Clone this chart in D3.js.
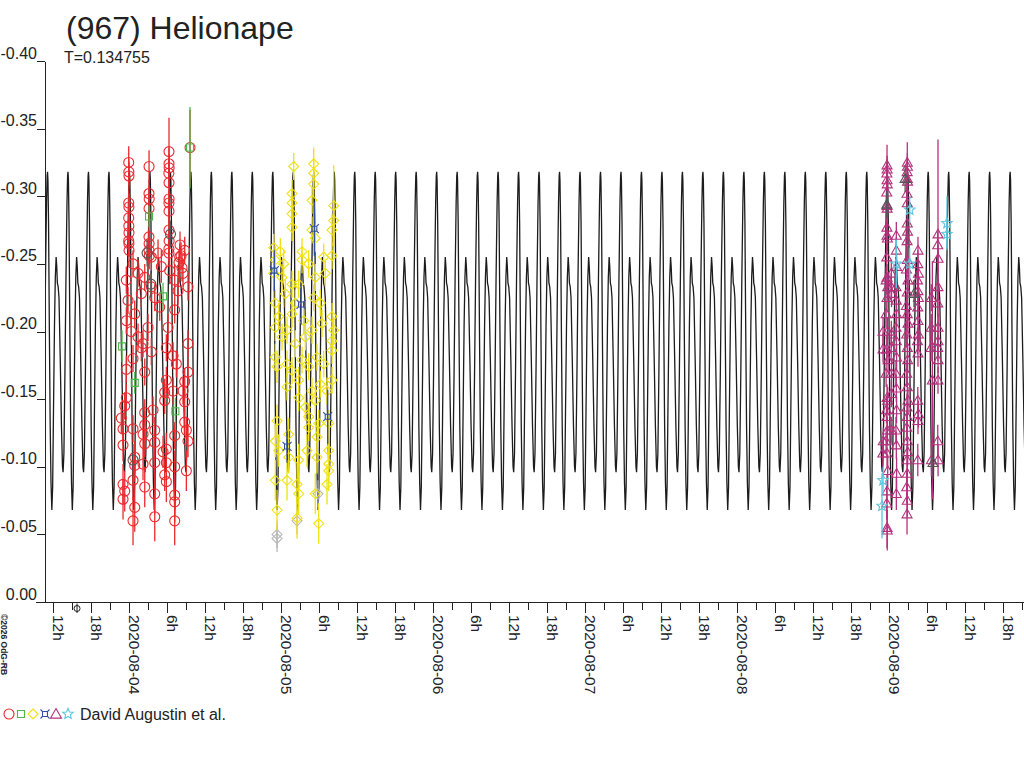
<!DOCTYPE html>
<html>
<head>
<meta charset="utf-8">
<script src="https://cdn.jsdelivr.net/npm/d3@7"></script>
<style>
  body { margin: 0; background: #fff; }
  svg { display: block; font-family: "Liberation Sans", Arial, sans-serif; }
</style>
</head>
<body>
<svg id="chart" width="1024" height="768"></svg>
<script>
// (967) Helionape - lightcurve, David Augustin et al.

// Model curve
const periodDays = 0.134755;
const maxHour = 42.16;       // one primary maximum, hours after 2020-08-04 00:00 UT
const epochHour = -8.16;     // phase marker under the time axis

// one period of the model, phase -> magnitude
const modelPhase = [0.00, 0.02, 0.05, 0.09, 0.13, 0.17, 0.21, 0.25, 0.29, 0.34, 0.38, 0.42, 0.45, 0.48, 0.52, 0.56, 0.62, 0.68, 0.73, 0.76, 0.80, 0.85, 0.90, 0.95, 0.98];
const modelMag = [-0.318, -0.312, -0.280, -0.200, -0.130, -0.088, -0.068, -0.085, -0.140, -0.205, -0.240, -0.255, -0.248, -0.236, -0.233, -0.225, -0.180, -0.130, -0.100, -0.096, -0.110, -0.170, -0.240, -0.295, -0.315];

// Observations: [hours after 2020-08-04 00:00 UT, magnitude, error]
const redData = [
  [0.00,-0.325,0.012],[0.02,-0.318,0.010],[0.04,-0.315,0.010],[0.00,-0.295,0.010],[0.03,-0.292,0.010],[0.00,-0.284,0.010],
  [0.02,-0.278,0.010],[0.04,-0.273,0.010],[0.00,-0.267,0.010],[0.03,-0.265,0.010],[0.05,-0.260,0.012],
  [3.21,-0.322,0.012],[3.20,-0.302,0.010],[3.23,-0.298,0.010],[3.21,-0.291,0.010],[3.20,-0.270,0.010],[3.22,-0.265,0.010],
  [3.21,-0.260,0.010],[3.24,-0.256,0.010],
  [6.36,-0.333,0.025],[6.36,-0.324,0.012],[6.38,-0.321,0.010],[6.34,-0.317,0.010],[6.36,-0.310,0.010],[6.37,-0.298,0.010],
  [6.35,-0.295,0.010],[6.36,-0.289,0.010],[6.36,-0.275,0.010],[6.38,-0.267,0.010],[6.35,-0.261,0.010],[6.36,-0.258,0.010],
  [8.10,-0.264,0.010],[8.26,-0.256,0.010],[7.94,-0.251,0.010],[8.42,-0.247,0.010],[9.68,-0.336,0.028],
  [0.68,-0.250,0.010],[1.47,-0.243,0.010],[-0.38,-0.238,0.010],[2.53,-0.240,0.010],[3.57,-0.255,0.010],[4.63,-0.258,0.010],
  [5.15,-0.248,0.012],[3.57,-0.233,0.010],[1.99,-0.228,0.010],[-0.11,-0.223,0.010],[0.95,-0.213,0.010],[-0.38,-0.208,0.010],
  [4.11,-0.225,0.010],[6.47,-0.245,0.010],[7.26,-0.238,0.012],[8.05,-0.255,0.010],[8.84,-0.260,0.010],[8.57,-0.243,0.010],
  [7.78,-0.230,0.010],[9.36,-0.233,0.010],[7.26,-0.216,0.010],[6.21,-0.203,0.010],[3.05,-0.203,0.010],[1.47,-0.196,0.010],
  [4.89,-0.218,0.010],
  [0.41,-0.200,0.010],[2.26,-0.191,0.010],[3.57,-0.185,0.010],[1.99,-0.188,0.010],[0.68,-0.180,0.010],[-0.38,-0.172,0.010],
  [2.53,-0.170,0.010],[5.94,-0.188,0.010],[7.52,-0.176,0.010],[7.00,-0.182,0.010],[9.36,-0.191,0.010],[8.84,-0.163,0.010],
  [9.36,-0.170,0.010],[5.94,-0.164,0.010],[5.68,-0.155,0.010],[7.00,-0.156,0.010],[5.68,-0.149,0.010],[-0.38,-0.151,0.010],
  [-0.63,-0.145,0.010],[2.53,-0.140,0.010],[3.84,-0.142,0.010],[8.84,-0.148,0.010],[8.57,-0.156,0.010],[-1.17,-0.136,0.012],
  [-0.90,-0.128,0.012],[0.68,-0.128,0.010],[2.53,-0.131,0.010],[4.11,-0.127,0.010],[2.26,-0.124,0.010],[4.11,-0.118,0.010],
  [2.53,-0.117,0.010],[-0.90,-0.116,0.012],[5.94,-0.113,0.012],[5.42,-0.111,0.012],[8.84,-0.133,0.010],[9.10,-0.127,0.010],
  [9.36,-0.119,0.012],[7.26,-0.123,0.010],[0.95,-0.107,0.012],[0.95,-0.101,0.012],[4.11,-0.103,0.012],[2.26,-0.102,0.012],
  [5.94,-0.103,0.012],[7.26,-0.100,0.012],[9.10,-0.097,0.015],[5.68,-0.094,0.012],[0.68,-0.090,0.015],[-0.90,-0.087,0.015],
  [-0.63,-0.082,0.015],[2.53,-0.085,0.015],[-0.90,-0.076,0.015],[4.11,-0.080,0.015],[7.26,-0.079,0.015],[7.26,-0.074,0.015],
  [0.95,-0.070,0.018],[4.11,-0.063,0.018],[0.68,-0.060,0.018],[7.26,-0.060,0.018],[5.94,-0.089,0.015]
];
const greenData = [
  [-1.06,-0.189,0.012],[0.95,-0.162,0.008],[3.21,-0.285,0.008],[5.42,-0.226,0.010],[7.37,-0.141,0.010],[9.68,-0.336,0.030]
];
const yellowData = [
  [29.21,-0.324,0.012],[26.05,-0.322,0.010],[29.21,-0.317,0.010],[29.21,-0.309,0.010],[32.37,-0.293,0.030],[32.37,-0.282,0.015],
  [25.79,-0.302,0.010],[25.79,-0.295,0.010],[25.79,-0.287,0.010],[25.79,-0.277,0.010],[28.94,-0.297,0.010],[28.94,-0.275,0.010],
  [29.46,-0.269,0.010],[32.10,-0.275,0.012],[22.90,-0.262,0.010],[23.94,-0.259,0.010],[27.36,-0.259,0.010],[27.36,-0.253,0.010],
  [30.79,-0.255,0.010],[32.10,-0.256,0.010],[23.15,-0.253,0.010],[24.47,-0.250,0.010],[28.42,-0.250,0.010],[22.90,-0.243,0.010],
  [24.21,-0.240,0.010],[25.79,-0.235,0.010],[26.84,-0.235,0.010],[29.46,-0.240,0.010],[31.04,-0.243,0.010],[24.73,-0.228,0.010],
  [26.31,-0.221,0.010],[29.21,-0.225,0.010],[23.15,-0.221,0.010],[30.25,-0.221,0.010],[32.10,-0.211,0.010],[23.69,-0.211,0.010],
  [25.79,-0.213,0.010],[27.63,-0.208,0.010],[28.94,-0.201,0.010],[25.00,-0.201,0.010],[30.52,-0.206,0.010],[32.37,-0.201,0.010],
  [23.15,-0.203,0.010],[24.21,-0.196,0.010],[26.31,-0.191,0.010],[27.89,-0.196,0.010],[32.10,-0.193,0.010],[23.15,-0.181,0.010],
  [25.00,-0.176,0.010],[27.36,-0.179,0.010],[29.73,-0.181,0.010],[32.10,-0.186,0.010],[23.42,-0.174,0.012],[25.79,-0.171,0.010],
  [28.42,-0.174,0.010],[30.79,-0.176,0.010],[26.84,-0.164,0.010],[32.10,-0.164,0.010],[25.00,-0.159,0.010],[28.94,-0.156,0.010],
  [30.25,-0.161,0.010],[26.84,-0.151,0.010],[31.31,-0.156,0.010],[29.46,-0.149,0.010],[27.89,-0.144,0.010],[28.42,-0.137,0.010],
  [28.42,-0.129,0.010],[30.00,-0.132,0.010],[31.58,-0.132,0.010],[23.42,-0.134,0.012],[25.26,-0.124,0.012],[23.15,-0.119,0.012],
  [29.73,-0.122,0.012],[31.58,-0.112,0.012],[23.69,-0.112,0.012],[25.26,-0.107,0.012],[26.84,-0.105,0.012],[28.15,-0.112,0.012],
  [29.73,-0.107,0.012],[23.15,-0.090,0.015],[25.00,-0.090,0.015],[31.58,-0.097,0.015],[26.84,-0.080,0.015],[31.31,-0.087,0.015],
  [23.42,-0.068,0.015],[26.58,-0.062,0.015],[30.00,-0.058,0.015],[31.58,-0.102,0.012],[26.58,-0.087,0.015],[29.46,-0.080,0.015]
];
const blueData = [
  [22.99,-0.245,0.015],[29.31,-0.276,0.020],[27.21,-0.220,0.015],[25.00,-0.115,0.012],[31.42,-0.137,0.020]
];
const magentaData = [
  [119.74,-0.323,0.015],[119.76,-0.320,0.010],[119.72,-0.317,0.010],[119.74,-0.312,0.010],[119.78,-0.309,0.010],[119.70,-0.303,0.010],
  [119.74,-0.293,0.010],[119.76,-0.291,0.010],[119.72,-0.277,0.010],[119.74,-0.271,0.010],[119.80,-0.269,0.010],[119.70,-0.255,0.010],
  [119.74,-0.240,0.010],[119.60,-0.238,0.010],[119.85,-0.233,0.010],[119.74,-0.225,0.010],[119.60,-0.213,0.010],[119.80,-0.200,0.010],
  [119.70,-0.187,0.010],[119.90,-0.179,0.010],[119.60,-0.169,0.010],[119.74,-0.151,0.010],[119.85,-0.149,0.010],[119.65,-0.142,0.010],
  [119.74,-0.137,0.010],[119.80,-0.127,0.010],[119.60,-0.119,0.010],[119.74,-0.110,0.010],[119.85,-0.097,0.012],[119.74,-0.082,0.012],
  [119.70,-0.073,0.012],[119.74,-0.055,0.015],[119.78,-0.053,0.015],
  [122.94,-0.325,0.015],[122.96,-0.322,0.010],[122.92,-0.318,0.010],[122.94,-0.313,0.010],[122.98,-0.311,0.010],[122.90,-0.302,0.010],
  [122.94,-0.295,0.010],[122.94,-0.280,0.010],[122.98,-0.274,0.010],[122.90,-0.267,0.010],[122.94,-0.253,0.010],[122.80,-0.246,0.010],
  [123.05,-0.238,0.010],[122.94,-0.229,0.010],[122.80,-0.219,0.010],[122.94,-0.213,0.010],[123.05,-0.206,0.010],[122.85,-0.198,0.010],
  [122.94,-0.188,0.010],[123.00,-0.179,0.010],[122.85,-0.169,0.010],[122.94,-0.159,0.010],[123.05,-0.149,0.010],[122.90,-0.144,0.010],
  [122.94,-0.137,0.010],[122.85,-0.129,0.010],[122.94,-0.119,0.010],[123.00,-0.111,0.010],[122.90,-0.105,0.012],[122.94,-0.095,0.012],
  [122.85,-0.085,0.012],[122.94,-0.075,0.012],[122.90,-0.065,0.015],
  [121.21,-0.271,0.010],[121.21,-0.260,0.010],[121.25,-0.248,0.010],[121.15,-0.233,0.010],[121.21,-0.223,0.010],[121.25,-0.213,0.010],
  [121.15,-0.203,0.010],[121.21,-0.193,0.010],[121.25,-0.181,0.010],[121.15,-0.169,0.010],[121.21,-0.158,0.010],[121.25,-0.142,0.010],
  [121.15,-0.127,0.010],[121.21,-0.116,0.010],[121.25,-0.095,0.012],[121.21,-0.080,0.012],
  [124.63,-0.260,0.010],[124.60,-0.250,0.010],[124.70,-0.243,0.010],[124.55,-0.238,0.010],[124.63,-0.230,0.010],[124.70,-0.225,0.010],
  [124.60,-0.218,0.010],[124.63,-0.208,0.010],[124.70,-0.198,0.010],[124.55,-0.193,0.010],[124.63,-0.184,0.010],[124.60,-0.149,0.010],
  [124.70,-0.139,0.010],[124.63,-0.134,0.010],[124.60,-0.105,0.012],
  [127.79,-0.272,0.070],[127.75,-0.264,0.010],[127.80,-0.254,0.010],[127.79,-0.233,0.010],[127.75,-0.221,0.010],[127.80,-0.203,0.010],
  [127.79,-0.193,0.010],[127.75,-0.188,0.010],[127.80,-0.179,0.010],[127.79,-0.164,0.010],[127.75,-0.119,0.012],[127.80,-0.105,0.012],
  [126.73,-0.225,0.010],[126.73,-0.203,0.010],[126.70,-0.188,0.010],[126.75,-0.105,0.012],[126.90,-0.164,0.088],
  [120.42,-0.243,0.010],[120.40,-0.233,0.010],[120.45,-0.228,0.010],[120.42,-0.198,0.010],[120.40,-0.188,0.010],[120.45,-0.169,0.010],
  [120.42,-0.154,0.010],[120.40,-0.127,0.010],
  [119.11,-0.200,0.010],[119.11,-0.187,0.010],[119.15,-0.119,0.010],[119.08,-0.110,0.010]
];
const cyanData = [
  [123.32,-0.290,0.010],[129.21,-0.280,0.020],[129.21,-0.272,0.010],[121.21,-0.250,0.018],[123.32,-0.250,0.012],
  [119.11,-0.090,0.010],[118.95,-0.071,0.024]
];
// grey (rejected) points
const greyCircleData = [[0.68,-0.105,0.012],[2.90,-0.258,0.010],[6.60,-0.272,0.010],[3.50,-0.235,0.010]];
const greyDiamondData = [[23.42,-0.050,0.010],[23.42,-0.047,0.010],[26.58,-0.060,0.010],[29.89,-0.080,0.010]];
const greyTriangleData = [[119.70,-0.294,0.010],[124.00,-0.228,0.010],[127.00,-0.103,0.012],[122.60,-0.313,0.010]];

// Axes values
const yTickValues = [-0.40, -0.35, -0.30, -0.25, -0.20, -0.15, -0.10, -0.05, 0.00];
const startHour = -13.22;
const endHour = 141.37;

const title = '(967) Helionape';
const subtitle = 'T=' + periodDays;
const legendText = 'David Augustin et al.';
const copyrightText = '\u00A92026 OdG-RB';

// ---------------------------------------------------------------

const svg = d3.select('#chart');
const base = Date.UTC(2020, 7, 4);
const atHour = h => new Date(base + h * 3600e3);

const x = d3.scaleUtc().domain([atHour(startHour), atHour(endHour)]).range([45, 1024]);
const y = d3.scaleLinear().domain([-0.40, 0]).range([61, 602]);

// symbols, size = radius squared
const circleSym = { draw(c, s) { const r = Math.sqrt(s); c.moveTo(r, 0); c.arc(0, 0, r, 0, 2 * Math.PI); } };
const squareSym = { draw(c, s) { const r = Math.sqrt(s); c.rect(-r, -r, 2 * r, 2 * r); } };
const diamondSym = { draw(c, s) { const r = Math.sqrt(s); c.moveTo(0, -r); c.lineTo(r, 0); c.lineTo(0, r); c.lineTo(-r, 0); c.closePath(); } };
const triangleSym = { draw(c, s) { const r = Math.sqrt(s); c.moveTo(0, -r); c.lineTo(r, r * 0.75); c.lineTo(-r, r * 0.75); c.closePath(); } };
const starSym = { draw(c, s) {
  const r = Math.sqrt(s), ri = r * 0.45;
  for (let i = 0; i < 10; i++) {
    const a = -Math.PI / 2 + i * Math.PI / 5, rr = i % 2 ? ri : r;
    if (i === 0) c.moveTo(rr * Math.cos(a), rr * Math.sin(a)); else c.lineTo(rr * Math.cos(a), rr * Math.sin(a));
  }
  c.closePath();
} };
const crossSym = { draw(c, s) {
  const r = Math.sqrt(s), h = r * 0.55;
  c.rect(-h, -h, 2 * h, 2 * h);
  c.moveTo(-r, -r); c.lineTo(-h, -h); c.moveTo(r, -r); c.lineTo(h, -h);
  c.moveTo(r, r); c.lineTo(h, h); c.moveTo(-r, r); c.lineTo(-h, h);
} };

// model curve
svg.append('clipPath').attr('id', 'plot-clip')
  .append('rect').attr('x', 45).attr('y', 0).attr('width', 979).attr('height', 768);

const periodHours = periodDays * 24;
const firstCycle = Math.floor((startHour - maxHour) / periodHours) - 1;
const lastCycle = Math.ceil((endHour - maxHour) / periodHours) + 1;
const model = [];
for (let k = firstCycle; k <= lastCycle; k++) {
  modelPhase.forEach((p, i) => model.push([maxHour + (k + p) * periodHours, modelMag[i]]));
}
svg.append('path')
  .datum(model)
  .attr('clip-path', 'url(#plot-clip)')
  .attr('fill', 'none')
  .attr('stroke', '#1c1c1c')
  .attr('stroke-width', 1.3)
  .attr('d', d3.line().x(d => x(atHour(d[0]))).y(d => y(d[1])));

// observations with error bars
function drawSeries(data, color, shape, r) {
  const g = svg.append('g');
  g.selectAll('line')
    .data(data)
    .join('line')
    .attr('x1', d => x(atHour(d[0]))).attr('x2', d => x(atHour(d[0])))
    .attr('y1', d => y(d[1] - d[2])).attr('y2', d => y(d[1] + d[2]))
    .attr('stroke', color).attr('stroke-width', 1.3);
  g.selectAll('path')
    .data(data)
    .join('path')
    .attr('transform', d => `translate(${x(atHour(d[0]))},${y(d[1])})`)
    .attr('d', d3.symbol().type(shape).size(r * r))
    .attr('fill', 'none').attr('stroke', color).attr('stroke-width', 1.1);
}

drawSeries(greyDiamondData, '#b8b8b8', diamondSym, 5);
drawSeries(redData, '#ea2a2e', circleSym, 5);
drawSeries(greyCircleData, '#555', circleSym, 5);
drawSeries(greenData, '#4cb848', squareSym, 3.5);
drawSeries(yellowData, '#f0e212', diamondSym, 5);
drawSeries(blueData, '#2f4f9f', crossSym, 4.5);
drawSeries(magentaData, '#b5317e', triangleSym, 5);
drawSeries(greyTriangleData, '#555', triangleSym, 5);
drawSeries(cyanData, '#5cc6dc', starSym, 5.5);

// y axis
const yAxis = svg.append('g')
  .attr('transform', 'translate(45,0)')
  .call(d3.axisLeft(y).tickValues(yTickValues).tickSize(8).tickSizeOuter(0).tickFormat(v => v.toFixed(2)));
yAxis.select('.domain').attr('stroke', '#222').attr('shape-rendering', 'crispEdges');
yAxis.selectAll('.tick line').attr('stroke', '#222').attr('shape-rendering', 'crispEdges');
yAxis.selectAll('.tick text')
  .attr('x', -8).attr('dy', -3)
  .attr('font-family', '"Liberation Sans", Arial, sans-serif')
  .attr('font-size', 16).attr('fill', '#222');
yAxis.attr('font-family', null).attr('font-size', null);

// x axis
const xTicks = d3.utcHour.every(3).range(atHour(startHour), atHour(endHour));
const xAxis = svg.append('g')
  .attr('transform', 'translate(0,602)')
  .call(d3.axisBottom(x).tickValues(xTicks).tickSize(8).tickSizeOuter(0).tickFormat(''));
xAxis.select('.domain').remove();
xAxis.selectAll('.tick line')
  .attr('y2', d => d.getUTCHours() % 6 === 0 ? 11 : 8)
  .attr('stroke', '#222').attr('shape-rendering', 'crispEdges');
svg.append('line')
  .attr('x1', 36).attr('x2', 1024).attr('y1', 602).attr('y2', 602)
  .attr('stroke', '#222').attr('shape-rendering', 'crispEdges');

const dateFmt = d3.utcFormat('%Y-%m-%d');
svg.append('g').selectAll('text')
  .data(xTicks.filter(d => d.getUTCHours() % 6 === 0))
  .join('text')
  .attr('transform', d => `translate(${x(d) + 0.5},615) rotate(90)`)
  .attr('font-size', 15.5).attr('fill', '#222')
  .text(d => d.getUTCHours() === 0 ? dateFmt(d) : d.getUTCHours() + 'h');

// phase marker
const ex = x(atHour(epochHour));
svg.append('circle').attr('cx', ex).attr('cy', 608.5).attr('r', 3)
  .attr('fill', 'none').attr('stroke', '#222');
svg.append('line').attr('x1', ex).attr('x2', ex).attr('y1', 603.5).attr('y2', 613)
  .attr('stroke', '#222');

// titles
svg.append('text').attr('x', 66).attr('y', 39).attr('font-size', 32).attr('fill', '#222').text(title);
svg.append('text').attr('x', 64).attr('y', 63).attr('font-size', 16).attr('fill', '#222').text(subtitle);

// copyright
svg.append('text')
  .attr('transform', 'translate(1,614) rotate(90)')
  .attr('font-size', 8.5).attr('font-weight', 'bold').attr('fill', '#222')
  .text(copyrightText);

// legend
const legendItems = [
  [9, '#ea2a2e', circleSym, 5],
  [21, '#4cb848', squareSym, 3.5],
  [33, '#f0e212', diamondSym, 5],
  [45, '#2f4f9f', crossSym, 4.5],
  [56, '#b5317e', triangleSym, 5.5],
  [68, '#5cc6dc', starSym, 5.5]
];
svg.append('g').selectAll('path')
  .data(legendItems)
  .join('path')
  .attr('transform', d => `translate(${d[0]},714)`)
  .attr('d', d => d3.symbol().type(d[2]).size(d[3] * d[3])())
  .attr('fill', 'none').attr('stroke', d => d[1]).attr('stroke-width', 1.1);
svg.append('text').attr('x', 80).attr('y', 720).attr('font-size', 16).attr('fill', '#222').text(legendText);
</script>
</body>
</html>
